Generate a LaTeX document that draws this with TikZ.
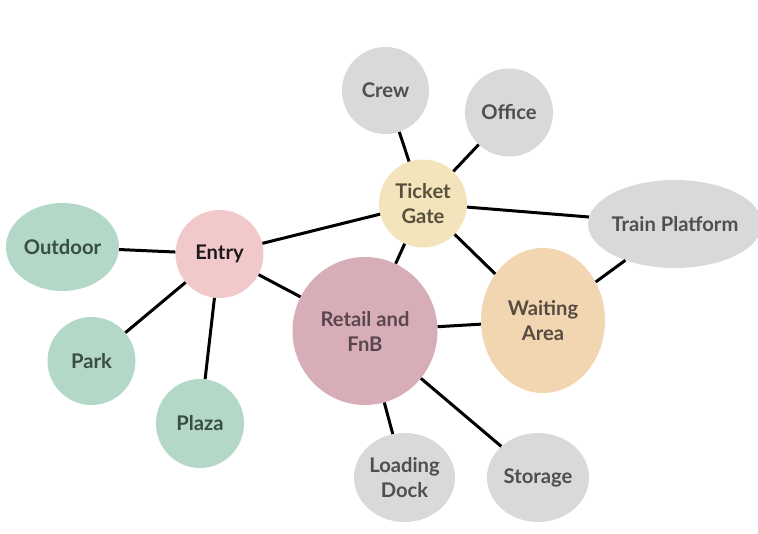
\documentclass[tikz,border=0pt]{standalone}
\usepackage{fontspec}
\setmainfont{Lato}[UprightFont=* Bold]
\usetikzlibrary{shapes.geometric}
\definecolor{cgray}{HTML}{D9D9D9}
\definecolor{cgreen}{HTML}{B3D8C8}
\definecolor{cpink}{HTML}{F2C9CB}
\definecolor{cmauve}{HTML}{D7AEB8}
\definecolor{cbeige}{HTML}{F3E4BB}
\definecolor{cpeach}{HTML}{F2D6B1}
\definecolor{tgray}{HTML}{4F4F4F}
\definecolor{tgreen}{HTML}{3A4D44}
\definecolor{tentry}{HTML}{1E1A1B}
\definecolor{tmauve}{HTML}{5A464E}
\definecolor{tbeige}{HTML}{57503C}
\definecolor{tpeach}{HTML}{564C41}
\tikzset{
  blob/.style={ellipse, inner xsep=-25pt, inner ysep=-8pt, align=center,
    font=\fontsize{20.2}{25}\selectfont},
  graynode/.style={blob, fill=cgray, text=tgray},
  greennode/.style={blob, fill=cgreen, text=tgreen},
  link/.style={line width=3pt, black}
}
\begin{document}
\begin{tikzpicture}[x=1pt,y=-1pt]
\useasboundingbox (0,0) rectangle (758,534);
\node[graynode, minimum width=87, minimum height=87] (crew) at (385.5,90.5) {Crew};
\node[graynode, minimum width=88, minimum height=88] (office) at (509,112.5) {Office};
\node[blob, fill=cbeige, text=tbeige, minimum width=88, minimum height=88] (ticket) at (423,203.5) {Ticket\\Gate};
\node[graynode, minimum width=174, minimum height=88] (train) at (675,224) {Train Platform};
\node[greennode, minimum width=113, minimum height=88] (outdoor) at (62.5,247) {Outdoor};
\node[blob, fill=cpink, text=tentry, minimum width=88, minimum height=88] (entry) at (219.5,254) {Entry};
\node[blob, fill=cmauve, text=tmauve, minimum width=145, minimum height=148] (retail) at (365,331) {Retail and\\FnB};
\node[blob, fill=cpeach, text=tpeach, minimum width=124, minimum height=145] (waiting) at (543,320.5) {Waiting\\Area};
\node[greennode, minimum width=88, minimum height=88] (park) at (91.5,361) {Park};
\node[greennode, minimum width=88, minimum height=89] (plaza) at (200,423.5) {Plaza};
\node[graynode, minimum width=101, minimum height=89] (loading) at (404.5,477.5) {Loading\\Dock};
\node[graynode, minimum width=102, minimum height=89] (storage) at (538,477.5) {Storage};
\draw[link] (outdoor) -- (entry);
\draw[link] (entry) -- (ticket);
\draw[link] (entry) -- (retail);
\draw[link] (entry) -- (park);
\draw[link] (entry) -- (plaza);
\draw[link] (crew) -- (ticket);
\draw[link] (office) -- (ticket);
\draw[link] (ticket) -- (train);
\draw[link] (ticket) -- (retail);
\draw[link] (ticket) -- (waiting);
\draw[link] (train) -- (waiting);
\draw[link] (retail) -- (waiting);
\draw[link] (retail) -- (loading);
\draw[link] (retail) -- (storage);
\end{tikzpicture}
\end{document}
